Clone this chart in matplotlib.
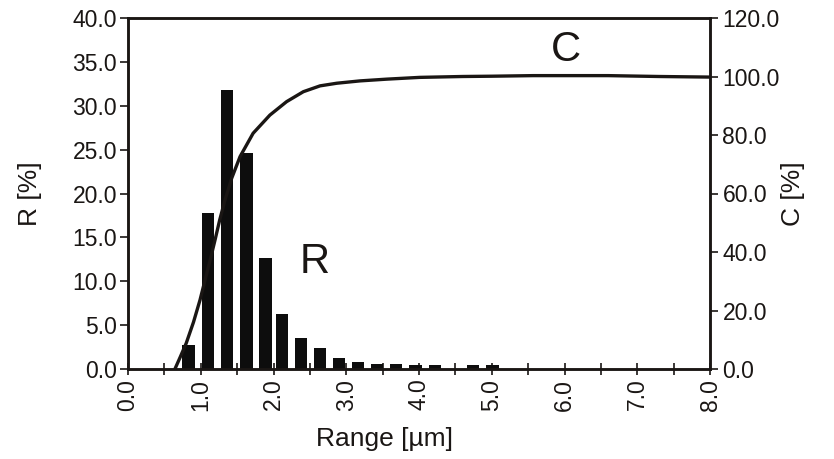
import numpy as np
import matplotlib.pyplot as plt
from matplotlib.ticker import MultipleLocator, FormatStrFormatter

plt.rcParams['font.family'] = ['Liberation Sans', 'DejaVu Sans']

# bar centers (um) and R values (%)
r_x = [0.83, 1.10, 1.36, 1.63, 1.89, 2.12, 2.38, 2.64, 2.90, 3.16, 3.42, 3.68, 3.95, 4.22, 4.74, 5.01]
r_val = [2.7, 17.8, 31.8, 24.6, 12.6, 6.3, 3.5, 2.4, 1.25, 0.75, 0.55, 0.55, 0.45, 0.45, 0.4, 0.4]

# cumulative curve C (%)
c_x = [0.645, 0.72, 0.80, 0.90, 0.99, 1.06, 1.13, 1.20, 1.26, 1.33, 1.425, 1.54, 1.72, 1.95,
       2.18, 2.41, 2.64, 2.87, 3.19, 3.56, 4.01, 4.6, 5.0, 5.57, 6.1, 6.6, 7.3, 8.0]
c_val = [0.0, 4.2, 8.8, 16.0, 23.6, 30.5, 37.3, 44.5, 50.9, 57.5, 65.2, 72.6, 80.6, 86.8,
         91.4, 94.8, 96.8, 97.7, 98.5, 99.1, 99.7, 100.0, 100.1, 100.3, 100.3, 100.3, 100.0, 99.8]

ink = '#1a1614'

fig = plt.figure(figsize=(8.34, 4.59), dpi=100)
ax = fig.add_axes([128 / 834, 1 - 369 / 459, (710 - 128) / 834, (369 - 18) / 459])
ax.bar(r_x, r_val, width=0.17, color='#0d0d0d', zorder=2)
ax.set_xlim(0, 8)
ax.set_ylim(0, 40)
ax.yaxis.set_major_locator(MultipleLocator(5))
ax.yaxis.set_major_formatter(FormatStrFormatter('%.1f'))
ax.xaxis.set_major_locator(MultipleLocator(1))
ax.xaxis.set_minor_locator(MultipleLocator(0.5))
ax.xaxis.set_major_formatter(FormatStrFormatter('%.1f'))
ax.tick_params(axis='x', which='both', direction='inout', length=8, width=1.2, colors=ink, labelsize=16.5, rotation=90, pad=3)
ax.tick_params(axis='y', direction='out', length=6, width=1.2, colors=ink, labelsize=16.5, pad=2)
for s in ax.spines.values():
    s.set_linewidth(1.8)
    s.set_color(ink)
ax.set_ylabel('R [%]', fontsize=19, color=ink, labelpad=22)
ax.set_xlabel('Range [µm]', fontsize=19, color=ink)
ax.xaxis.set_label_coords(0.44, -0.165)

ax2 = ax.twinx()
ax2.plot(c_x, c_val, color=ink, lw=2.4, zorder=3, solid_joinstyle='round')
ax2.set_ylim(0, 120)
ax2.yaxis.set_major_locator(MultipleLocator(20))
ax2.yaxis.set_major_formatter(FormatStrFormatter('%.1f'))
ax2.tick_params(axis='y', direction='out', length=6, width=1.2, colors=ink, labelsize=16.5, pad=3)
for s in ax2.spines.values():
    s.set_linewidth(1.8)
    s.set_color(ink)
ax2.set_ylabel('C [%]', fontsize=19, color=ink, labelpad=1)

ax.text(2.57, 12.2, 'R', fontsize=30, color=ink, ha='center', va='center')
ax.text(6.02, 36.4, 'C', fontsize=30, color=ink, ha='center', va='center')

fig.savefig('out.png', dpi=100)
